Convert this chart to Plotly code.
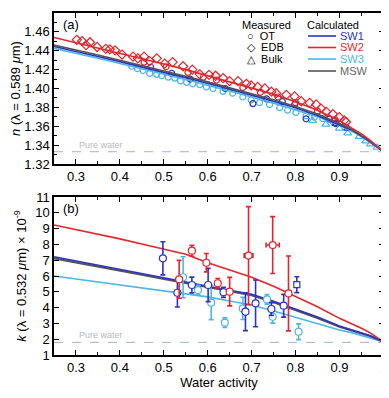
import plotly.graph_objects as go
from plotly.subplots import make_subplots

SW1_C = "#2d34c4"
SW2_C = "#e3262d"
SW3_C = "#4cb6e6"
MSW_C = "#555555"
WATER_C = "#a9aed6"

# ---------------- panel (a): refractive index n at 0.589 um ----------------
AW_CURVE = [0.25, 0.30, 0.35, 0.40, 0.45, 0.50, 0.55, 0.60, 0.65, 0.70,
            0.75, 0.80, 0.85, 0.90, 0.93, 0.95, 0.97, 0.99, 1.00]
N_SW2 = [1.454, 1.4485, 1.443, 1.437, 1.432, 1.426, 1.420, 1.4135, 1.407, 1.400,
         1.394, 1.386, 1.377, 1.366, 1.358, 1.352, 1.345, 1.337, 1.333]
N_MSW = [1.446, 1.441, 1.4355, 1.430, 1.4245, 1.419, 1.413, 1.407, 1.401, 1.3945,
         1.388, 1.381, 1.373, 1.363, 1.356, 1.350, 1.344, 1.337, 1.333]
N_SW1 = [1.4445, 1.4395, 1.434, 1.4285, 1.423, 1.4175, 1.4115, 1.4055, 1.3995, 1.393,
         1.3865, 1.3795, 1.3715, 1.362, 1.3555, 1.3495, 1.3435, 1.3365, 1.333]
N_SW3 = [1.4425, 1.4375, 1.432, 1.4265, 1.421, 1.4155, 1.4095, 1.4035, 1.3975, 1.391,
         1.3845, 1.3775, 1.370, 1.361, 1.3545, 1.349, 1.343, 1.3365, 1.333]
N_WATER = 1.333

# EDB (diamonds), SW2
EDB_AW = [0.302, 0.314, 0.323, 0.332, 0.348, 0.368, 0.377, 0.389, 0.405, 0.430,
          0.441, 0.455, 0.468, 0.484, 0.502, 0.520, 0.544, 0.565, 0.582, 0.603,
          0.618, 0.635, 0.650, 0.669, 0.688, 0.699, 0.714, 0.730, 0.745, 0.756,
          0.779, 0.798, 0.813, 0.832, 0.847, 0.858, 0.870, 0.885, 0.900, 0.911, 0.915]
EDB_N = [1.4516, 1.4503, 1.446, 1.449, 1.444, 1.442, 1.4415, 1.4405, 1.436, 1.4337,
         1.432, 1.4337, 1.429, 1.432, 1.4263, 1.428, 1.4236, 1.420, 1.415, 1.4145,
         1.4135, 1.411, 1.4078, 1.4078, 1.405, 1.4033, 1.4017, 1.400, 1.3966, 1.395,
         1.3933, 1.3916, 1.3865, 1.3848, 1.3831, 1.3787, 1.3753, 1.3729, 1.3696, 1.3662, 1.3645]

# OT (circles), SW2
OT2_AW = [0.455, 0.505, 0.555, 0.590, 0.620, 0.680, 0.720, 0.760, 0.800, 0.850, 0.890]
OT2_N = [1.428, 1.423, 1.417, 1.412, 1.409, 1.401, 1.396, 1.391, 1.385, 1.376, 1.367]

# OT (circles), SW3
OT3_AW = [0.427, 0.440, 0.453, 0.468, 0.484, 0.495, 0.510, 0.525, 0.538, 0.552,
          0.566, 0.582, 0.597, 0.612, 0.635, 0.657, 0.680, 0.699, 0.718, 0.741,
          0.764, 0.782, 0.801, 0.824, 0.843, 0.862, 0.885]
OT3_N = [1.4236, 1.421, 1.419, 1.416, 1.415, 1.4135, 1.412, 1.411, 1.408, 1.4065,
         1.405, 1.404, 1.4017, 1.400, 1.397, 1.395, 1.391, 1.388, 1.385, 1.383,
         1.3797, 1.377, 1.3747, 1.371, 1.3696, 1.368, 1.365]

# OT (circles), SW1
OT1_AW = [0.470, 0.518, 0.560, 0.640, 0.703, 0.734, 0.770, 0.798, 0.824, 0.877, 0.892]
OT1_N = [1.4225, 1.416, 1.410, 1.400, 1.384, 1.389, 1.386, 1.383, 1.3679, 1.3675, 1.3628]

# Bulk (triangles)
BULK3_AW = [0.839, 0.869, 0.900, 0.919, 0.945, 0.960, 0.971, 0.986]
BULK3_N = [1.366, 1.362, 1.3578, 1.3527, 1.349, 1.3443, 1.341, 1.3375]
BULK1_AW = [0.892, 0.919]
BULK1_N = [1.3628, 1.3578]

# ---------------- panel (b): imaginary index k at 0.532 um ----------------
K_SW2 = [9.23, 8.95, 8.65, 8.35, 8.03, 7.72, 7.38, 6.84, 6.40, 5.92,
         5.35, 4.69, 4.05, 3.32, 2.95, 2.69, 2.40, 2.02, 1.84]
K_MSW = [7.12, 6.87, 6.61, 6.35, 6.08, 5.82, 5.55, 5.28, 5.04, 4.78,
         4.34, 3.85, 3.35, 2.79, 2.55, 2.37, 2.20, 1.96, 1.84]
K_SW1 = [7.22, 6.96, 6.70, 6.43, 6.16, 5.89, 5.62, 5.35, 5.10, 4.84,
         4.40, 3.91, 3.40, 2.83, 2.58, 2.40, 2.22, 1.97, 1.84]
K_SW3 = [6.00, 5.81, 5.62, 5.43, 5.24, 5.05, 4.86, 4.68, 4.42, 4.16,
         3.78, 3.38, 2.98, 2.58, 2.40, 2.25, 2.10, 1.92, 1.84]
K_WATER = 1.8

KB1_AW = [0.498, 0.531, 0.564, 0.601, 0.636, 0.686, 0.709, 0.745, 0.773]
KB1_K = [7.12, 4.94, 5.43, 5.43, 4.97, 3.74, 4.27, 3.91, 4.12]
KB1_ERR = [1.05, 0.90, 0.50, 1.05, 0.32, 1.20, 1.48, 0.40, 0.72]
KB1SQ_AW = [0.803]
KB1SQ_K = [5.45]
KB1SQ_ERR = [0.50]

KB2_AW = [0.535, 0.564, 0.597, 0.623, 0.650, 0.693, 0.748, 0.784]
KB2_K = [5.79, 7.60, 6.84, 5.54, 5.01, 7.29, 7.96, 4.90]
KB2_ERR = [1.20, 0.35, 0.58, 0.30, 0.90, 3.10, 1.80, 2.37]
KB2_XERR = [0, 0, 0, 0, 0, 0.010, 0.015, 0]

KB3_AW = [0.544, 0.578, 0.608, 0.639, 0.680, 0.735, 0.748, 0.807]
KB3_K = [5.92, 5.11, 4.31, 3.05, 3.95, 4.52, 3.42, 2.47]
KB3_ERR = [1.30, 0.30, 1.08, 0.30, 0.70, 0.30, 0.40, 0.50]

X_TICKS = [0.3, 0.4, 0.5, 0.6, 0.7, 0.8, 0.9, 1.0]
X_TICKTEXT = ["0.3", "0.4", "0.5", "0.6", "0.7", "0.8", "0.9", ""]
X_END_LABEL = "1"

FONT = "Liberation Sans, Arial, sans-serif"

# page body adds an 8px offset; margins below are set so the plot lands
# where it sits in the reference (plot area x 54..384, panels 13..164 / 197..355)
OFF = 8
W, H = 389, 398
L, R, T, B = 54 - OFF, 13, 5, 398 - (355 - OFF)
PW, PH = W - L - R, H - T - B
TOP_A, BOT_A, TOP_B, BOT_B = 13, 164, 197, 355


def py(y):
    return (BOT_B - y) / PH


def px(x):
    return (x - 54) / PW


fig = make_subplots(rows=2, cols=1)


def line(x, y, color, row, width=1.6):
    fig.add_trace(go.Scatter(x=x, y=y, mode="lines", line=dict(color=color, width=width),
                             showlegend=False, hoverinfo="skip"), row=row, col=1)


def pts(x, y, color, symbol, row, size=6, err=None, xerr=None, fill="white"):
    kw = {}
    if err is not None:
        kw["error_y"] = dict(type="data", array=err, color=color, thickness=1.6, width=2.5)
    if xerr is not None:
        kw["error_x"] = dict(type="data", array=xerr, color=color, thickness=1.6, width=2.5)
    fig.add_trace(go.Scatter(x=x, y=y, mode="markers",
                             marker=dict(symbol=symbol, size=size, color=fill,
                                         line=dict(color=color, width=1.2)),
                             showlegend=False, **kw), row=row, col=1)


# panel a
fig.add_trace(go.Scatter(x=[0.25, 1.0], y=[N_WATER, N_WATER], mode="lines",
                         line=dict(color=WATER_C, width=1, dash="dash"),
                         showlegend=False), row=1, col=1)
pts(OT3_AW, OT3_N, SW3_C, "circle-open", 1, fill=SW3_C)
pts(OT1_AW, OT1_N, SW1_C, "circle-open", 1, fill=SW1_C)
pts(BULK3_AW, BULK3_N, SW3_C, "triangle-up-open", 1, size=7, fill=SW3_C)
pts(BULK1_AW, BULK1_N, SW1_C, "triangle-up-open", 1, size=7, fill=SW1_C)
pts(OT2_AW, OT2_N, SW2_C, "circle-open", 1, fill=SW2_C)
pts(EDB_AW, EDB_N, SW2_C, "diamond-open", 1, size=7, fill=SW2_C)
line(AW_CURVE, N_SW3, SW3_C, 1)
line(AW_CURVE, N_SW1, SW1_C, 1)
line(AW_CURVE, N_MSW, MSW_C, 1)
line(AW_CURVE, N_SW2, SW2_C, 1)

# panel b
fig.add_trace(go.Scatter(x=[0.25, 1.0], y=[K_WATER, K_WATER], mode="lines",
                         line=dict(color=WATER_C, width=1, dash="dash"),
                         showlegend=False), row=2, col=1)
line(AW_CURVE, K_SW3, SW3_C, 2)
line(AW_CURVE, K_MSW, MSW_C, 2, width=2.2)
line(AW_CURVE, K_SW1, SW1_C, 2)
line(AW_CURVE, K_SW2, SW2_C, 2)
pts(KB3_AW, KB3_K, SW3_C, "circle", 2, size=7, err=KB3_ERR)
pts(KB1_AW, KB1_K, SW1_C, "circle", 2, size=7, err=KB1_ERR)
pts(KB1SQ_AW, KB1SQ_K, SW1_C, "square", 2, size=6, err=KB1SQ_ERR)
pts(KB2_AW, KB2_K, SW2_C, "circle", 2, size=7, err=KB2_ERR, xerr=KB2_XERR)

axis_common = dict(showline=True, linecolor="black", linewidth=1.5, mirror="ticks",
                   ticks="inside", ticklen=5, tickwidth=1.2, tickcolor="black",
                   showgrid=False, zeroline=False, automargin=False,
                   tickfont=dict(size=13, color="black"))
for r in (1, 2):
    fig.update_xaxes(range=[0.25, 1.0015], ticklabeloverflow="allow",
                     tickvals=X_TICKS, ticktext=X_TICKTEXT,
                     minor=dict(dtick=0.05, tick0=0.25, ticks="inside", ticklen=3,
                                tickcolor="black"),
                     row=r, col=1, **axis_common)
fig.update_xaxes(title=dict(text="Water activity", font=dict(size=13, color="black"),
                            standoff=4), row=2, col=1)
fig.update_yaxes(range=[1.32, 1.48], dtick=0.02, tickformat=".2f",
                 domain=[py(BOT_A), py(TOP_A)],
                 minor=dict(dtick=0.01, ticks="inside", ticklen=3, tickcolor="black"),
                 title=dict(text="<i>n</i> (λ = 0.589 <i>μ</i>m)",
                            font=dict(size=13, color="black"), standoff=4),
                 row=1, col=1, **axis_common)
fig.update_yaxes(range=[1, 11], dtick=1, domain=[0, py(TOP_B)],
                 title=dict(text="<i>k</i> (λ = 0.532 <i>μ</i>m) × 10<sup>-9</sup>",
                            font=dict(size=13, color="black"), standoff=6),
                 row=2, col=1, **axis_common)

# the end label "1" of each x axis is dropped by plotly at the axis edge,
# so it is placed as an annotation under the last tick
for xr, yr in (("x", "y domain"), ("x2", "y2 domain")):
    fig.add_annotation(x=X_TICKS[-1], y=0, xref=xr, yref=yr, text=X_END_LABEL,
                       showarrow=False, xanchor="center", yanchor="top", yshift=-3,
                       font=dict(size=13, color="black"))

# panel labels and pure-water notes
for ref, txt in (("", "(a)"), ("2", "(b)")):
    fig.add_annotation(x=0.02, y=0.985, xref=f"x{ref} domain", yref=f"y{ref} domain",
                       text=txt, showarrow=False, xanchor="left", yanchor="top",
                       font=dict(size=13, color="black"))
for xr, yr, yv in (("x", "y", N_WATER), ("x2", "y2", K_WATER)):
    fig.add_annotation(x=0.302, y=yv, xref=xr, yref=yr, text="Pure water",
                       showarrow=False, xanchor="left", yanchor="bottom",
                       font=dict(size=9, color="#b8b8c4"))


def label(x, y, text, color="black", anchor="center"):
    fig.add_annotation(x=px(x), y=py(y), xref="paper", yref="paper", text=text,
                       showarrow=False, xanchor=anchor, yanchor="middle",
                       font=dict(size=11, color=color))


# custom legend (panel a), positions in screen pixels of the reference
label(266, 25, "Measured")
label(333, 25, "Calculated")
for yy, sym, name in ((36, "○", "OT"), (47.5, "◇", "EDB"), (59, "△", "Bulk")):
    label(245, yy, f"{sym}  {name}", anchor="left")
for yy, c, name in ((36, SW1_C, "SW1"), (47.5, SW2_C, "SW2"), (59, SW3_C, "SW3"),
                    (71, "#666666", "MSW")):
    fig.add_shape(type="line", xref="paper", yref="paper", x0=px(308), x1=px(336),
                  y0=py(yy), y1=py(yy), line=dict(color=MSW_C if name == "MSW" else c,
                                                  width=1.6))
    label(338, yy, name, color=c, anchor="left")

fig.update_layout(width=W, height=H, margin=dict(l=L, r=R, t=T, b=B),
                  plot_bgcolor="white", paper_bgcolor="white",
                  font=dict(family=FONT, size=13, color="black"), showlegend=False)

fig.write_html("out.html")
